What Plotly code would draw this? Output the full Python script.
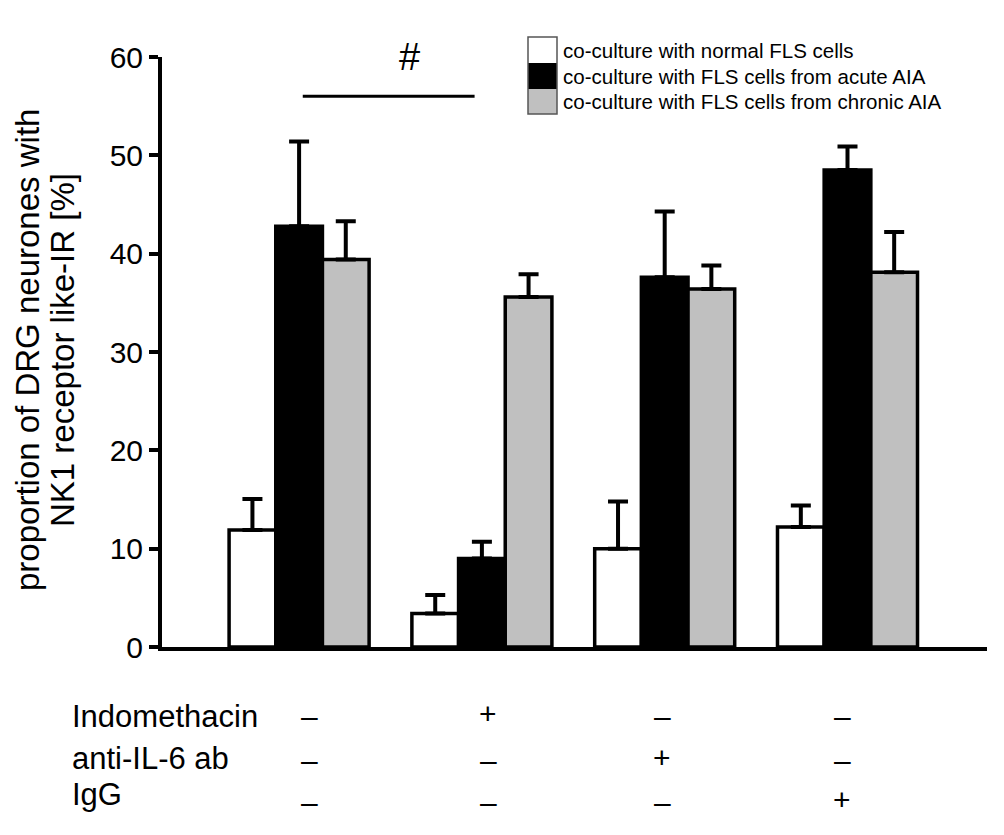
import plotly.graph_objects as go

# ---- data ----
groups = [0, 1, 2, 3]
series_names = [
    "co-culture with normal FLS cells",
    "co-culture with FLS cells from acute AIA",
    "co-culture with FLS cells from chronic AIA",
]
normal_mean = [11.9, 3.4, 10.0, 12.2]
normal_err = [3.15, 1.9, 4.8, 2.2]
acute_mean = [42.8, 9.0, 37.6, 48.5]
acute_err = [8.6, 1.7, 6.7, 2.4]
chronic_mean = [39.4, 35.6, 36.4, 38.1]
chronic_err = [3.9, 2.3, 2.4, 4.1]

y_ticks = [0, 10, 20, 30, 40, 50, 60]
y_title_lines = ["proportion of DRG neurones with", "NK1 receptor like-IR [%]"]

treat_labels = ["Indomethacin", "anti-IL-6 ab", "IgG"]
treat_signs = [
    ["–", "+", "–", "–"],
    ["–", "–", "+", "–"],
    ["–", "–", "–", "+"],
]

sig_label = "#"
sig_y = 56.0
sig_x = [0.02, 0.96]

# ---- styling / layout (reference pixel frame; page body has an 8px margin) ----
FONT = "Liberation Sans, Arial, sans-serif"
colors = ["#ffffff", "#000000", "#c0c0c0"]
means = [normal_mean, acute_mean, chronic_mean]
errs = [normal_err, acute_err, chronic_err]

OFF = 8
W, H = 1004 - 2 * OFF, 835 - 2 * OFF
PL, PR, PT, PB = 162, 987, 57, 647          # plot area in reference pixels
L = PL - OFF
T = PT - OFF
pw, ph = PR - PL, PB - PT
R = W - (PR - OFF)
B = H - (PB - OFF)


def px_x(x):
    return (x - PL) / pw


def px_y(y):
    return (PB - y) / ph


fig = go.Figure()
for name, m, e, c in zip(series_names, means, errs, colors):
    fig.add_trace(go.Bar(
        x=groups, y=m, name=name,
        marker=dict(color=c, line=dict(color="black", width=3.5)),
        error_y=dict(type="data", array=e, symmetric=False, arrayminus=[0] * len(e),
                     color="black", thickness=4, width=10),
        showlegend=False,
    ))

fig.update_layout(
    width=W, height=H,
    margin=dict(l=L, r=R, t=T, b=B, pad=0),
    paper_bgcolor="white", plot_bgcolor="white",
    barmode="group", bargap=0.234, bargroupgap=0,
    font=dict(family=FONT, color="black"),
    xaxis=dict(range=[-0.75, -0.75 + pw / 182.8], showticklabels=False, ticks="",
               showline=True, linecolor="black", linewidth=4, showgrid=False,
               zeroline=False, fixedrange=True),
    yaxis=dict(range=[0, 60], tickvals=y_ticks, ticks="outside", ticklen=9,
               tickwidth=4, tickcolor="black", showline=True, linecolor="black",
               linewidth=4, showgrid=False, zeroline=False,
               tickfont=dict(size=30, family=FONT)),
)

# y-axis title (two rotated lines)
for xc, line in zip([27, 62], y_title_lines):
    fig.add_annotation(xref="paper", yref="paper", x=px_x(xc), y=px_y(350), text=line,
                       textangle=-90, showarrow=False, xanchor="center", yanchor="middle",
                       font=dict(size=33, family=FONT))

# significance bar
fig.add_shape(type="line", xref="x", yref="y", x0=sig_x[0], x1=sig_x[1], y0=sig_y, y1=sig_y,
              line=dict(color="black", width=3))
fig.add_annotation(x=px_x(397), y=px_y(57), xref="paper", yref="paper", text=sig_label,
                   showarrow=False, font=dict(size=38, family=FONT), yanchor="middle")

# custom legend
rows_px = [37, 63, 89, 114]
for i, c in enumerate(colors):
    fig.add_shape(type="rect", xref="paper", yref="paper",
                  x0=px_x(528), x1=px_x(557), y0=px_y(rows_px[i + 1]), y1=px_y(rows_px[i]),
                  fillcolor=c, line=dict(width=0))
    fig.add_annotation(xref="paper", yref="paper", x=px_x(561),
                       y=px_y((rows_px[i] + rows_px[i + 1]) / 2), text=series_names[i],
                       showarrow=False, xanchor="left", yanchor="middle",
                       font=dict(size=20.5, family=FONT))
fig.add_shape(type="rect", xref="paper", yref="paper",
              x0=px_x(528), x1=px_x(557), y0=px_y(rows_px[3]), y1=px_y(rows_px[0]),
              line=dict(color="#555555", width=1.5), fillcolor="rgba(0,0,0,0)")

# treatment table
label_y_px = [716, 758, 794]
sign_y_px = [716, 760, 802]
sign_x_px = [309, 488, 662, 842]
for r, lab in enumerate(treat_labels):
    fig.add_annotation(xref="paper", yref="paper", x=px_x(70), y=px_y(label_y_px[r]),
                       text=lab, showarrow=False, xanchor="left", yanchor="middle",
                       font=dict(size=31, family=FONT))
    for g, s in enumerate(treat_signs[r]):
        fig.add_annotation(xref="paper", yref="paper", x=px_x(sign_x_px[g]),
                           y=px_y(sign_y_px[r] - (3 if s == "+" else 0)),
                           text=s, showarrow=False, xanchor="center", yanchor="middle",
                           font=dict(size=30, family=FONT))

fig.write_html("out.html")
